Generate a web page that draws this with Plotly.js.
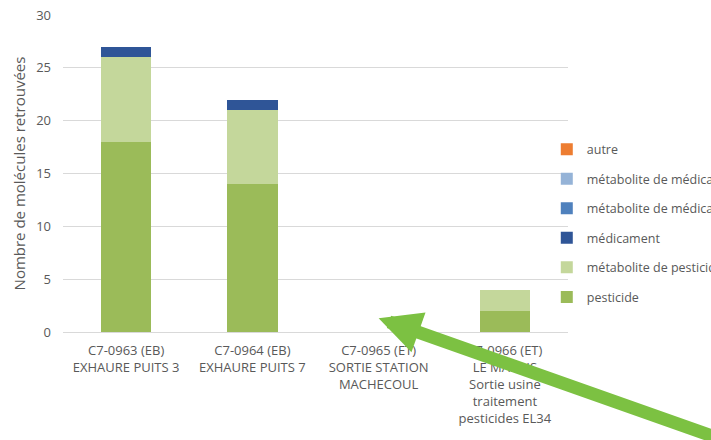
<!DOCTYPE html>
<html><head><meta charset="utf-8">
<script src="https://cdn.plot.ly/plotly-3.0.1.min.js"></script>
<style>html,body{margin:0;padding:0;overflow:hidden;background:#fff}</style>
</head><body>
<div id="chart" style="width:850px;height:440px"></div>
<script>
var categories = [
  "C7-0963 (EB)<br>EXHAURE PUITS 3",
  "C7-0964 (EB)<br>EXHAURE PUITS 7",
  "C7-0965 (ET)<br>SORTIE STATION<br>MACHECOUL",
  "C7-0966 (ET)<br>LE MARAIS<br>Sortie usine<br>traitement<br>pesticides EL34"
];
var seriesNames = ["pesticide", "métabolite de pesticide", "médicament", "métabolite de médicament", "métabolite de médicament humain", "autre"];
var pesticide = [18, 14, 0, 2];
var metabolitePesticide = [8, 7, 0, 2];
var medicament = [1, 1, 0, 0];
var metaboliteMedicament1 = [0, 0, 0, 0];
var metaboliteMedicament2 = [0, 0, 0, 0];
var autre = [0, 0, 0, 0];
var yTicks = [0, 5, 10, 15, 20, 25, 30];

var seriesValues = [pesticide, metabolitePesticide, medicament, metaboliteMedicament1, metaboliteMedicament2, autre];
var colors = ["#9BBB59", "#C4D79B", "#2F5597", "#4F81BD", "#95B3D7", "#ED7D31"];

var traces = seriesValues.map(function(v, i){
  return {type:'bar', name: seriesNames[i], x: categories, y: v,
    marker:{color: colors[i]}, legendgroup: 'g'+i, legendrank: seriesValues.length - i, hoverinfo:'none'};
});

var layout = {
  width: 850, height: 440,
  barmode: 'stack', bargap: 0.6,
  margin: {l: 63, r: 282, t: 15, b: 108},
  paper_bgcolor: '#fff', plot_bgcolor: '#fff',
  font: {family: 'Open Sans, Liberation Sans, sans-serif', size: 13, color: '#595959'},
  xaxis: {range:[-0.5, 3.5], autorange:false, showgrid:false, zeroline:false, showline:false, ticks:'', tickangle:0,
    ticklabelstandoff: 9, tickfont:{size:13, color:'#595959'}},
  yaxis: {range:[0,30], autorange:false, tickvals: yTicks, showgrid:true, gridcolor:'#D9D9D9', gridwidth:1,
    zeroline:true, zerolinecolor:'#D9D9D9', showline:false, ticks:'', ticklen:0, ticklabelstandoff: 11,
    tickfont:{size:13, color:'#595959'},
    title:{text:'Nombre de molécules retrouvées', font:{size:15, color:'#595959'}, standoff: 6}},
  showlegend: true,
  legend: {xref:'paper', yref:'paper', x: 0.958, y: 0.623, xanchor:'left', yanchor:'top',
    traceorder:'grouped', tracegroupgap: 10.3, itemwidth: 30,
    font:{size:12.5, color:'#595959'}, bgcolor:'rgba(0,0,0,0)'},
  annotations: [{
    x: categories[2], y: 1.3, xref:'x', yref:'y', showarrow:true,
    ax: 345, ay: 132, axref:'pixel', ayref:'pixel',
    arrowcolor:'#7CC142', arrowwidth: 13, arrowhead: 2, arrowsize: 0.65, text:''
  }]
};
Plotly.newPlot('chart', traces, layout, {displayModeBar:false, staticPlot:true});
</script>
</body></html>
